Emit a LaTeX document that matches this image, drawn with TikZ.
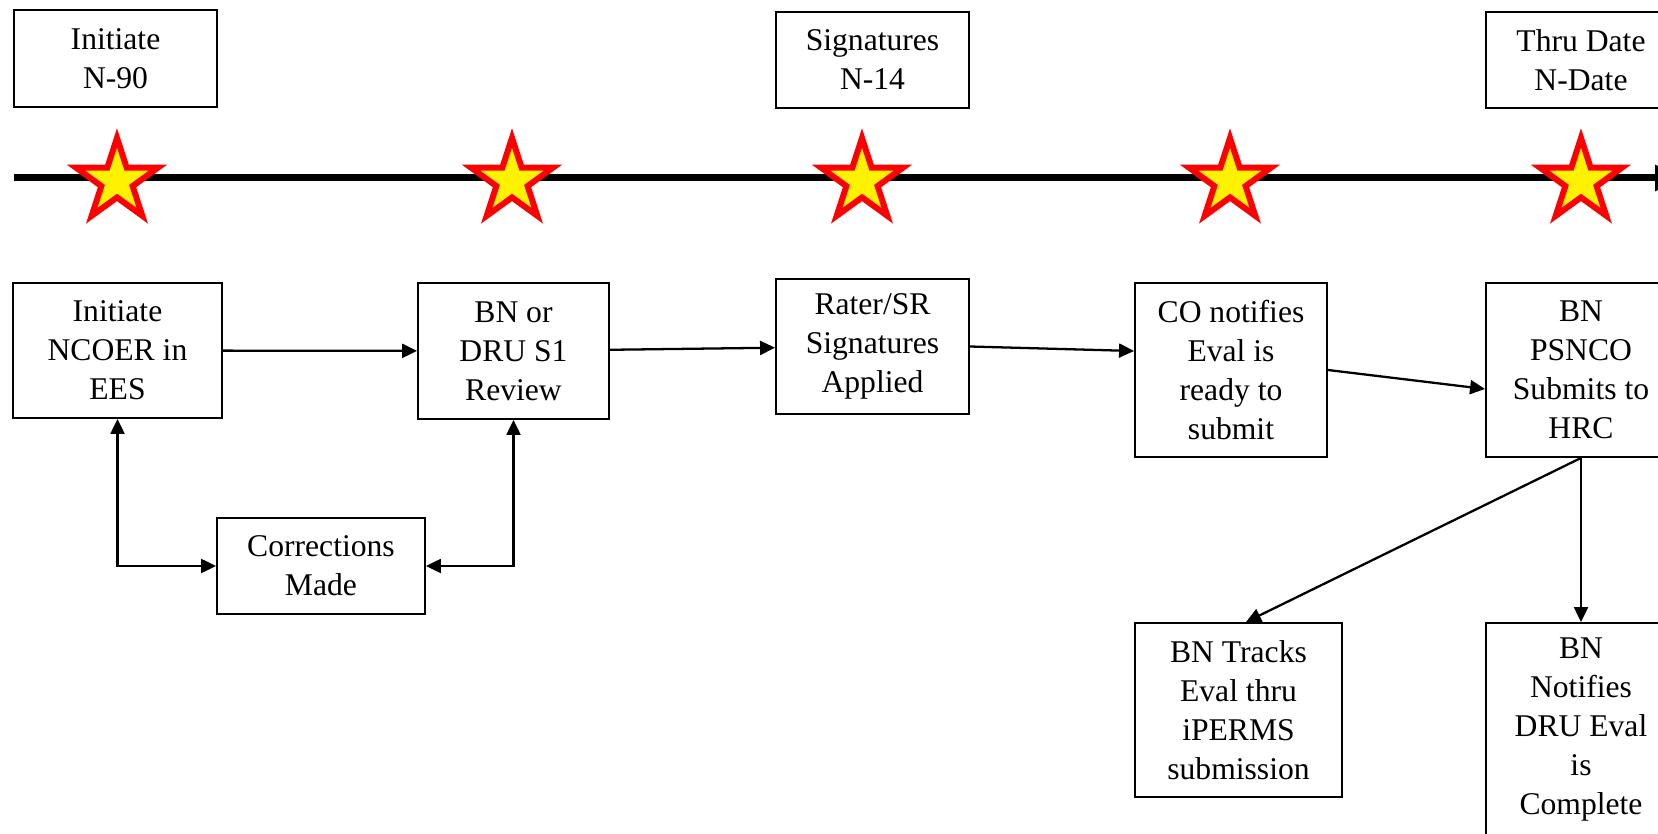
\documentclass[tikz,border=0pt]{standalone}
\usepackage{fontspec}
\setmainfont{Liberation Serif}
\usetikzlibrary{shapes.geometric,arrows.meta,calc}

\begin{document}
\begin{tikzpicture}[x=0.02cm,y=-0.02cm,line join=miter,
	block/.style={draw,line width=1.1pt,align=center,inner sep=0pt,font=\fontsize{18}{22.2}\selectfont},
	link/.style={line width=1.3pt,-{Triangle[length=0.3cm,width=0.28cm]}},
	twoway/.style={line width=1.3pt,{Triangle[length=0.3cm,width=0.28cm]}-{Triangle[length=0.3cm,width=0.28cm]}},
	milestone/.style={star,star points=5,star point ratio=2.618,minimum size=1.72cm,inner sep=0pt,draw=red,fill=yellow,line width=0.12cm}]
	\useasboundingbox (0,0) rectangle (1658,834);
	\clip (0,0) rectangle (1658,834);
	
	\coordinate (tl0) at (14,178);
	\coordinate (tl1) at (1680,178);
	\draw[line width=0.14cm,-{Triangle[length=0.5cm,width=0.5cm]}] (tl0) -- (tl1);
	\foreach \x [count=\i] in {117,512,862,1230,1581}
	{
		\node[milestone] (s\i) at (\x,181) {};
	}
	
	\node[block,minimum width=4.06cm,minimum height=1.94cm] (n90) at (115.5,58.5) {Initiate\\N-90};
	\node[block,minimum width=3.86cm,minimum height=1.92cm] (n14) at (872.5,60) {Signatures\\N-14};
	\node[block,minimum width=3.80cm,minimum height=1.92cm] (ndate) at (1581,60) {Thru Date\\N-Date};
	
	\node[block,minimum width=4.18cm,minimum height=2.70cm] (init) at (117.5,350.5) {Initiate\\NCOER in\\EES};
	\node[block,minimum width=3.82cm,minimum height=2.72cm] (review) at (513.5,351) {BN or\\DRU S1\\Review};
	\node[block,minimum width=3.86cm,minimum height=2.70cm] (sign) at (872.5,346.5) {Rater/SR\\Signatures\\Applied};
	\node[block,minimum width=3.84cm,minimum height=3.48cm] (notify) at (1231,370) {CO notifies\\Eval is\\ready to\\submit};
	\node[block,minimum width=3.80cm,minimum height=3.48cm] (submit) at (1581,370) {BN\\PSNCO\\Submits to\\HRC};
	\node[block,minimum width=4.16cm,minimum height=1.92cm] (fix) at (321,566) {Corrections\\Made};
	\node[block,minimum width=4.14cm,minimum height=3.48cm] (track) at (1238.5,710) {BN Tracks\\Eval thru\\iPERMS\\submission};
	\node[block,minimum width=3.80cm,minimum height=4.28cm] (done) at (1581,730) {BN\\Notifies\\DRU Eval\\is\\Complete};
	
	\draw[link] (init) -- (review);
	\draw[link] (review) -- (sign);
	\draw[link] (sign.east) -- ([yshift=0.38cm]notify.west);
	\draw[link] (notify.east) -- ([yshift=-0.38cm]submit.west);
	\draw[link] (submit.south) -- ([xshift=0.15cm]track.north);
	\draw[link] (submit.south) -- (done.north);
	\draw[twoway] (init.south) |- (fix.west);
	\draw[twoway] (review.south) |- (fix.east);
	
\end{tikzpicture}
\end{document}
